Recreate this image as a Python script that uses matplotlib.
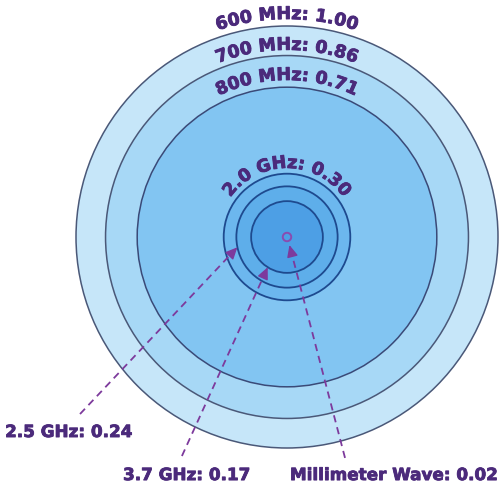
import numpy as np
import matplotlib
matplotlib.use("Agg")
import matplotlib.pyplot as plt
import matplotlib.patheffects as pe
from matplotlib.patches import Circle
from matplotlib import font_manager
from matplotlib.ft2font import FT2Font

# ---- data ----
bands = ["600 MHz", "700 MHz", "800 MHz", "2.0 GHz", "2.5 GHz", "3.7 GHz", "Millimeter Wave"]
coverage = [1.00, 0.86, 0.71, 0.30, 0.24, 0.17, 0.02]
labels = [f"{b}: {v:.2f}" for b, v in zip(bands, coverage)]

# ---- style ----
fills = ["#c6e6f9", "#a7d8f6", "#82c5f2", "#6cb7ee", "#5eaeea", "#4d9fe5", "#4d9fe5"]
edges = ["#4a5878", "#4a5878", "#3a4a78", "#1e4a8f", "#1e4a8f", "#1e4a8f", "#8a4bb0"]
text_color = "#4b2a7b"
arrow_color = "#7d3a9c"
FAMILY = "DejaVu Sans"
FS_ARC = 12.6
FS_LBL = 12.1
bold_fx = [pe.withStroke(linewidth=0.6, foreground=text_color)]

W, H, DPI = 5.03, 5.00, 100
fig = plt.figure(figsize=(W, H), dpi=DPI)
ax = fig.add_axes([0, 0, 1, 1])
S = 211.0  # pixels per unit radius
cx, cy = 287.0, 237.0
ax.set_xlim(-cx / S, (W * DPI - cx) / S)
ax.set_ylim(-(H * DPI - cy) / S, cy / S)
ax.axis("off")

# circles
for i, (v, fc, ec) in enumerate(zip(coverage, fills, edges)):
    lw = 1.1 if i < 3 else (1.3 if i < 6 else 1.4)
    ax.add_patch(Circle((0, 0), v, facecolor=fc, edgecolor=ec, lw=lw, zorder=1 + i))

# curved text
fp = font_manager.FontProperties(family=FAMILY, weight="bold")
ftfont = FT2Font(font_manager.findfont(fp))


def curved_text(text, radius, center_deg, fs):
    ftfont.set_size(fs, 72)
    adv = []
    for ch in text:
        g = ftfont.load_char(ord(ch))
        adv.append(g.linearHoriAdvance / 65536.0 * DPI / 72.0 / S)
    total = sum(adv)
    start = np.radians(center_deg) + (total / 2) / radius
    cum = 0.0
    for ch, a in zip(text, adv):
        th = start - (cum + a / 2) / radius
        cum += a
        ax.text(radius * np.cos(th), radius * np.sin(th), ch,
                rotation=np.degrees(th) - 90, rotation_mode="anchor",
                ha="center", va="baseline", fontsize=fs, color=text_color,
                family=FAMILY, weight="bold", zorder=20, path_effects=bold_fx)


arc_offsets = [0.033, 0.027, 0.034, 0.027]
for i in range(4):
    curved_text(labels[i], coverage[i] + arc_offsets[i], 90, FS_ARC)

# straight labels with dashed arrows
lbl_pos = [(-1.336, -0.948), (-0.777, -1.152), (0.014, -1.152)]
arrow_start = [(-0.981, -0.839), (-0.498, -1.038), (0.275, -1.047)]
arrow_angle = [191.7, 237.5, 287.0]
tip_gap = [0.0, 0.0, 0.02]
for k, idx in enumerate([4, 5, 6]):
    x, y = lbl_pos[k]
    ax.text(x, y, labels[idx], ha="left", va="baseline", fontsize=FS_LBL,
            color=text_color, family=FAMILY, weight="bold", zorder=20,
            path_effects=bold_fx)
    r = coverage[idx] + tip_gap[k]
    th = np.radians(arrow_angle[k])
    tip = np.array([r * np.cos(th), r * np.sin(th)])
    st = np.array(arrow_start[k])
    d = (tip - st) / np.linalg.norm(tip - st)
    back = tip - d * 0.035
    ax.plot([st[0], back[0]], [st[1], back[1]], ls=(0, (4, 2.8)), lw=1.3,
            color=arrow_color, zorder=15)
    ax.annotate("", xy=tip, xytext=back,
                arrowprops=dict(arrowstyle="-|>,head_length=0.65,head_width=0.3",
                                color=arrow_color, lw=1.0, shrinkA=0, shrinkB=0,
                                mutation_scale=11),
                zorder=16)

fig.savefig("out.png", dpi=DPI, facecolor="white")
